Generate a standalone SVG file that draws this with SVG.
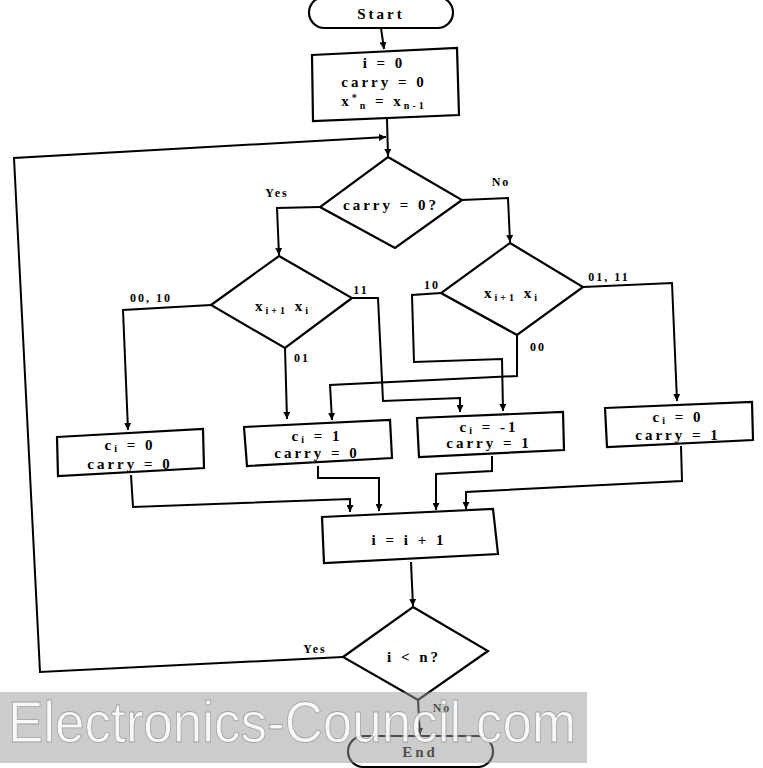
<svg xmlns="http://www.w3.org/2000/svg" width="763" height="768" viewBox="0 0 763 768">
<defs>
<marker id="arr" viewBox="0 0 10 10" refX="10" refY="5" markerWidth="7" markerHeight="7" markerUnits="userSpaceOnUse" orient="auto">
<path d="M0,0 L10,5 L0,10 z" fill="#000"/>
</marker>
<style>
.shape{fill:#fff;stroke:#000;stroke-width:2.2}
.conn path{fill:none;stroke:#000;stroke-width:2;marker-end:url(#arr)}
.t{font-family:"Liberation Serif","Times New Roman",serif;font-weight:bold;font-size:15px;letter-spacing:3px;text-anchor:middle;fill:#000}
.lbl{font-family:"Liberation Serif","Times New Roman",serif;font-weight:bold;font-size:12px;letter-spacing:2px;text-anchor:middle;fill:#000}
.sub{font-size:10px}
.wm{font-family:"Liberation Sans",Arial,sans-serif;font-size:58px;fill:#fff;fill-opacity:0.85;stroke:#a0a0a0;stroke-width:0.8}
</style>
</defs>
<rect width="763" height="768" fill="#fff"/>

<g class="conn" id="connectors">
<path d="M381,28 L384,49"/>
<path d="M387,119 L388,156"/>
<path d="M320,207 L277,208 L279,255"/>
<path d="M462,200 L508,198 L510,242"/>
<path d="M211,305 L123,310 L128,430"/>
<path d="M285,348 L287,419"/>
<path d="M352,298 L378,298 L383,401 L460,398 L460,412"/>
<path d="M441,293 L412,295 L414,362 L502,359 L503,411"/>
<path d="M517,335 L517,376 L330,385 L332,420"/>
<path d="M583,287 L672,283 L677,401"/>
<path d="M131,475 L133,507 L350,499 L350,512"/>
<path d="M318,466 L318,478 L379,478 L379,511"/>
<path d="M492,456 L492,471 L436,474 L436,510"/>
<path d="M681,446 L682,481 L466,492 L466,509"/>
<path d="M411,562 L413,606"/>
<path d="M343,657 L40,672 L14,158 L386,137"/>
<path d="M418,700 L420,735"/>
</g>

<g id="start">
<rect class="shape" x="309" y="-3" width="144" height="31" rx="15.5"/>
<text class="t" x="381" y="19">Start</text>
</g>

<g id="init">
<polygon class="shape" points="312,55 457,48 459,115 313,121"/>
<text class="t" x="384" y="68">i = 0</text>
<text class="t" x="384" y="87">carry = 0</text>
<text class="t" x="384" y="106">x<tspan class="sub" dy="-5">*</tspan><tspan class="sub" dy="8">n</tspan><tspan dy="-3"> = x</tspan><tspan class="sub" dy="3">n-1</tspan></text>
</g>

<g id="dec-carry">
<polygon class="shape" points="388,157 462,200 395,248 320,207"/>
<text class="t" x="391" y="210">carry = 0?</text>
</g>

<g id="dec-left">
<polygon class="shape" points="279,256 352,298 285,348 211,305"/>
<text class="t" x="283" y="311">x<tspan class="sub" dy="3">i+1</tspan><tspan dy="-3"> x</tspan><tspan class="sub" dy="3">i</tspan></text>
</g>

<g id="dec-right">
<polygon class="shape" points="510,243 583,287 517,335 441,293"/>
<text class="t" x="512" y="298">x<tspan class="sub" dy="3">i+1</tspan><tspan dy="-3"> x</tspan><tspan class="sub" dy="3">i</tspan></text>
</g>

<g id="box-a">
<polygon class="shape" points="57,437 203,429 204,468 58,476"/>
<text class="t" x="130" y="450">c<tspan class="sub" dy="2">i</tspan><tspan dy="-2"> = 0</tspan></text>
<text class="t" x="130" y="469">carry = 0</text>
</g>

<g id="box-b">
<polygon class="shape" points="244,427 390,420 392,458 247,466"/>
<text class="t" x="317" y="441">c<tspan class="sub" dy="2">i</tspan><tspan dy="-2"> = 1</tspan></text>
<text class="t" x="317" y="458">carry = 0</text>
</g>

<g id="box-c">
<polygon class="shape" points="417,418 563,412 564,450 419,457"/>
<text class="t" x="489" y="432">c<tspan class="sub" dy="2">i</tspan><tspan dy="-2"> = -1</tspan></text>
<text class="t" x="489" y="448">carry = 1</text>
</g>

<g id="box-d">
<polygon class="shape" points="605,408 752,402 753,440 607,447"/>
<text class="t" x="678" y="422">c<tspan class="sub" dy="2">i</tspan><tspan dy="-2"> = 0</tspan></text>
<text class="t" x="678" y="440">carry = 1</text>
</g>

<g id="incr">
<polygon class="shape" points="322,517 493,509 498,554 324,563"/>
<text class="t" x="409" y="545">i = i + 1</text>
</g>

<g id="dec-loop">
<polygon class="shape" points="413,607 488,651 418,700 343,657"/>
<text class="t" x="414" y="662">i &lt; n?</text>
</g>

<g id="end">
<rect class="shape" x="348" y="736" width="145" height="31" rx="15.5"/>
<text class="t" x="420" y="757">End</text>
</g>

<g id="labels">
<text class="lbl" x="277" y="197">Yes</text>
<text class="lbl" x="501" y="186">No</text>
<text class="lbl" x="151" y="302">00, 10</text>
<text class="lbl" x="361" y="294">11</text>
<text class="lbl" x="302" y="362">01</text>
<text class="lbl" x="432" y="289">10</text>
<text class="lbl" x="538" y="351">00</text>
<text class="lbl" x="609" y="281">01, 11</text>
<text class="lbl" x="315" y="653">Yes</text>
<text class="lbl" x="442" y="712">No</text>
</g>

<g id="watermark">
<rect x="0" y="692" width="587" height="71" fill="#9a9a9a" fill-opacity="0.5"/>
<text class="wm" x="8" y="742" textLength="568" lengthAdjust="spacingAndGlyphs">Electronics-Council.com</text>
</g>
</svg>
